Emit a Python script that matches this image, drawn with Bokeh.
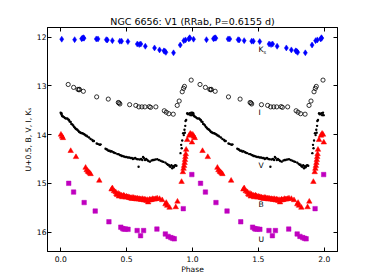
from bokeh.plotting import figure
from bokeh.models import Range1d, FixedTicker, LinearAxis, PrintfTickFormatter
from bokeh.embed import file_html
from bokeh.resources import INLINE
from bokeh.core.properties import value

# ---------------- data (phase in [0,1), plotted magnitude) ----------------
k_phase = [0.008, 0.106, 0.159, 0.166, 0.172, 0.177, 0.270, 0.283, 0.346, 0.354, 0.392, 0.449, 0.462,
           0.510, 0.581, 0.596, 0.608, 0.642, 0.712, 0.750, 0.783, 0.791, 0.798, 0.856, 0.907, 0.934,
           0.947, 0.972, 0.978, 0.980]
k_mag = [12.04, 12.05, 12.03, 12.02, 12.01, 12.02, 12.035, 12.035, 12.05, 12.055, 12.07, 12.08, 12.08,
         12.09, 12.14, 12.15, 12.14, 12.185, 12.22, 12.26, 12.28, 12.29, 12.31, 12.32, 12.16, 12.07,
         12.055, 12.035, 12.01, 12.02]

i_phase = [0.057, 0.098, 0.131, 0.139, 0.142, 0.172, 0.273, 0.361, 0.437, 0.443, 0.449, 0.523, 0.570,
           0.593, 0.616, 0.639, 0.672, 0.682, 0.722, 0.786, 0.801, 0.820, 0.854, 0.884, 0.899, 0.922,
           0.932, 0.939, 0.990]
i_mag = [12.97, 13.03, 13.07, 13.08, 13.07, 13.11, 13.225, 13.27, 13.34, 13.35, 13.37, 13.385, 13.40,
         13.43, 13.43, 13.43, 13.425, 13.44, 13.43, 13.51, 13.54, 13.57, 13.58, 13.40, 13.31, 13.12,
         13.05, 13.01, 12.88]

v_phase = [0.000, 0.003, 0.006, 0.010, 0.013, 0.018, 0.025, 0.032, 0.040, 0.050, 0.057, 0.063, 0.068,
           0.076, 0.081, 0.088, 0.095, 0.101, 0.108, 0.114, 0.120, 0.126, 0.133, 0.139, 0.145, 0.152,
           0.158, 0.164, 0.171, 0.177, 0.184, 0.190, 0.197, 0.203, 0.215, 0.227, 0.240, 0.245, 0.252,
           0.273, 0.280, 0.290, 0.298, 0.303, 0.340, 0.347, 0.354, 0.362, 0.372, 0.379, 0.387, 0.399,
           0.405, 0.416, 0.430, 0.440, 0.448, 0.455, 0.462, 0.470, 0.480, 0.490, 0.500, 0.510, 0.520,
           0.530, 0.540, 0.548, 0.556, 0.565, 0.575, 0.586, 0.591, 0.600, 0.610, 0.619, 0.625, 0.631,
           0.640, 0.648, 0.657, 0.665, 0.677, 0.690, 0.700, 0.707, 0.718, 0.732, 0.745, 0.758, 0.770,
           0.780, 0.795, 0.805, 0.813, 0.820, 0.827, 0.833, 0.840, 0.846, 0.852, 0.858, 0.864, 0.870,
           0.878, 0.909, 0.914, 0.918, 0.922, 0.929, 0.934, 0.939, 0.942, 0.945, 0.947, 0.952, 0.960,
           0.965, 0.972, 0.978, 0.985, 0.990, 0.995]
v_mag = [13.55, 13.57, 13.56, 13.60, 13.62, 13.63, 13.64, 13.66, 13.67, 13.67, 13.69, 13.70, 13.73,
         13.74, 13.78, 13.79, 13.81, 13.84, 13.86, 13.88, 13.89, 13.90, 13.92, 13.94, 13.95, 13.96,
         13.97, 13.97, 13.98, 13.99, 14.00, 14.02, 14.02, 14.04, 14.06, 14.09, 14.11, 14.13, 14.13,
         14.18, 14.19, 14.20, 14.21, 14.20, 14.29, 14.30, 14.31, 14.33, 14.33, 14.35, 14.34, 14.36,
         14.37, 14.38, 14.40, 14.40, 14.42, 14.42, 14.44, 14.44, 14.45, 14.46, 14.46, 14.47, 14.47,
         14.48, 14.48, 14.50, 14.49, 14.48, 14.50, 14.505, 14.66, 14.51, 14.50, 14.52, 14.46, 14.48,
         14.52, 14.50, 14.52, 14.54, 14.555, 14.53, 14.52, 14.52, 14.51, 14.505, 14.52, 14.535, 14.55,
         14.56, 14.575, 14.60, 14.62, 14.62, 14.65, 14.66, 14.63, 14.69, 14.65, 14.67, 14.64, 14.63,
         14.64, 14.38, 14.21, 14.28, 14.12, 13.97, 14.01, 13.90, 13.96, 13.82, 13.72, 13.70, 13.56,
         13.58, 13.575, 13.56, 13.60, 13.55, 13.60]

b_phase = [0.002, 0.010, 0.017, 0.076, 0.116, 0.189, 0.197, 0.207, 0.213, 0.220, 0.227, 0.293, 0.386,
           0.392, 0.404, 0.417, 0.423, 0.429, 0.436, 0.442, 0.448, 0.455, 0.461, 0.467, 0.473, 0.479,
           0.485, 0.492, 0.498, 0.505, 0.511, 0.518, 0.524, 0.530, 0.536, 0.542, 0.548, 0.555, 0.561,
           0.568, 0.574, 0.580, 0.586, 0.593, 0.599, 0.606, 0.612, 0.619, 0.626, 0.632, 0.638, 0.644,
           0.651, 0.657, 0.664, 0.670, 0.676, 0.682, 0.690, 0.698, 0.707, 0.715, 0.722, 0.732, 0.750,
           0.770, 0.795, 0.801, 0.808, 0.826, 0.873, 0.886, 0.917, 0.927, 0.932, 0.936, 0.940, 0.943,
           0.946, 0.949, 0.952, 0.960, 0.975, 0.983, 0.990, 0.996]
b_mag = [14.00, 14.04, 14.07, 14.335, 14.46, 14.68, 14.73, 14.76, 14.77, 14.79, 14.81, 14.945, 15.125,
         15.10, 15.16, 15.18, 15.22, 15.24, 15.21, 15.27, 15.23, 15.26, 15.25, 15.285, 15.26, 15.25,
         15.27, 15.29, 15.27, 15.285, 15.28, 15.30, 15.29, 15.31, 15.30, 15.32, 15.295, 15.30, 15.32,
         15.31, 15.33, 15.31, 15.32, 15.33, 15.32, 15.33, 15.34, 15.32, 15.335, 15.35, 15.33, 15.34,
         15.36, 15.34, 15.39, 15.35, 15.33, 15.345, 15.34, 15.32, 15.33, 15.33, 15.32, 15.31, 15.32,
         15.345, 15.43, 15.40, 15.46, 15.50, 15.49, 15.375, 14.97, 14.77, 14.70, 14.64, 14.58, 14.52,
         14.46, 14.40, 14.31, 14.11, 14.02, 13.98, 14.00, 14.16]

u_phase = [0.061, 0.098, 0.178, 0.262, 0.366, 0.456, 0.470, 0.480, 0.492, 0.511, 0.580, 0.606, 0.629,
           0.730, 0.794, 0.815, 0.836, 0.850, 0.862, 0.930, 0.995]
u_mag_plus05 = [15.00, 15.18, 15.395, 15.57, 15.79, 15.90, 15.93, 15.94, 15.94, 15.945, 15.97, 16.075, 15.97,
                15.94, 16.04, 16.09, 16.115, 16.13, 16.14, 15.52, 14.82]

label_text = ["K", "I", "V", "B", "U"]
label_phase = [1.5, 1.5, 1.5, 1.5, 1.5]
label_mag = [12.25, 13.55, 14.64, 15.44, 16.15]

x_ticks = [0.0, 0.5, 1.0, 1.5, 2.0]
y_ticks = [12, 13, 14, 15, 16]


def two_cycles(ph, mag):
    return list(ph) + [q + 1.0 for q in ph], list(mag) + list(mag)


FONT = "DejaVu Sans"

p = figure(width=374, height=280, output_backend="svg", toolbar_location=None,
           x_range=Range1d(-0.1, 2.1), y_range=Range1d(16.4, 11.8),
           title="NGC 6656: V1 (RRab, P=0.6155 d)",
           min_border_left=47, min_border_right=37, min_border_top=27, min_border_bottom=29,
           background_fill_color="white", border_fill_color="white")

p.title.align = "center"
p.title.text_font = FONT
p.title.text_font_size = "9.5px"
p.title.text_font_style = "normal"
p.title.text_color = "black"
p.title.standoff = 2

p.grid.visible = False
p.outline_line_color = "black"
p.outline_line_width = 1

for ax in (p.xaxis[0], p.yaxis[0]):
    ax.major_tick_in = 4
    ax.major_tick_out = 0
    ax.minor_tick_in = 0
    ax.minor_tick_out = 0
    ax.axis_line_color = "black"
    ax.major_tick_line_color = "black"
    ax.major_label_text_font = FONT
    ax.major_label_text_font_size = "7.6px"
    ax.major_label_text_color = "black"
    ax.axis_label_text_font = FONT
    ax.axis_label_text_font_size = "7.6px"
    ax.axis_label_text_font_style = "normal"
    ax.axis_label_text_color = "black"

p.xaxis.ticker = FixedTicker(ticks=x_ticks)
p.xaxis.formatter = PrintfTickFormatter(format="%.1f")
p.xaxis.axis_label = "Phase"
p.xaxis.major_label_standoff = 4
p.xaxis.axis_label_standoff = 0

p.yaxis.ticker = FixedTicker(ticks=y_ticks)
p.yaxis.formatter = PrintfTickFormatter(format="%d")
p.yaxis.axis_label = "U+0.5, B, V, I, K\u209b"
p.yaxis.major_label_standoff = 1
p.yaxis.axis_label_standoff = 1

top = LinearAxis(ticker=FixedTicker(ticks=x_ticks), major_tick_in=4, major_tick_out=0,
                 minor_tick_in=0, minor_tick_out=0, major_label_text_color=None,
                 major_label_standoff=0, axis_line_color="black")
right = LinearAxis(ticker=FixedTicker(ticks=y_ticks), major_tick_in=4, major_tick_out=0,
                   minor_tick_in=0, minor_tick_out=0, major_label_text_color=None,
                   major_label_standoff=0, axis_line_color="black")
p.add_layout(top, "above")
p.add_layout(right, "right")

# ---------------- data glyphs ----------------
ux, uy = two_cycles(u_phase, u_mag_plus05)
p.scatter(ux, uy, marker="square", size=4.5, fill_color="#bf00bf", line_color="#bf00bf", line_width=0.5)

bx, by = two_cycles(b_phase, b_mag)
p.scatter(bx, by, marker="triangle", size=5.5, fill_color="red", line_color="red", line_width=0.5)

vx, vy = two_cycles(v_phase, v_mag)
p.scatter(vx, vy, marker="circle", size=2.4, fill_color="black", line_color=None)

ix, iy = two_cycles(i_phase, i_mag)
p.scatter(ix, iy, marker="circle", size=4.2, fill_color=None, line_color="black", line_width=0.8)

kx, ky = two_cycles(k_phase, k_mag)
p.scatter(kx, ky, marker="diamond", size=6, fill_color="blue", line_color="blue", line_width=0.5)

# ---------------- band labels ----------------
p.text(x=label_phase, y=label_mag, text=label_text, text_font=value(FONT), text_font_size="7.6px",
       text_color="black", text_align="left", text_baseline="middle")
p.text(x=label_phase[:1], y=label_mag[:1], text=["s"], x_offset=5.2, y_offset=2.5,
       text_font=value(FONT), text_font_size="5px", text_color="black",
       text_align="left", text_baseline="middle")

open("out.html", "w").write(file_html(p, INLINE))
